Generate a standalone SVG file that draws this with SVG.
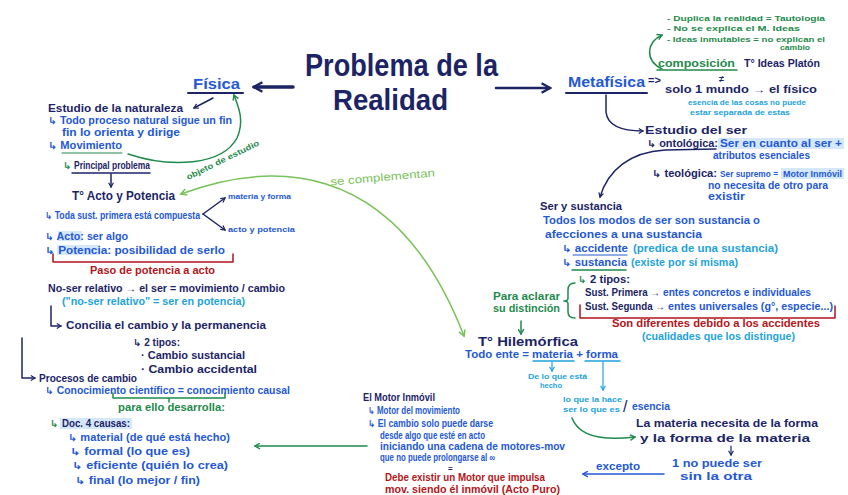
<svg xmlns="http://www.w3.org/2000/svg" width="848" height="495" viewBox="0 0 848 495">
<defs>
<style>
text{font-family:"Liberation Sans","DejaVu Sans",Arial,sans-serif;font-size:10px;font-weight:bold;}
.navy{fill:#1c2466}.blue{fill:#2458d4}.cyan{fill:#1ea3dc}.green{fill:#1f8a4c}.lgreen{fill:#79c25a}.red{fill:#b3151a}
.sm{font-size:7.5px}
.ln{fill:none;stroke-linecap:round;stroke-linejoin:round}
.sn{stroke:#1c2466}.sb{stroke:#2458d4}.sc{stroke:#1ea3dc}.sg{stroke:#1f8a4c}.sl{stroke:#79c25a}.sr{stroke:#b3151a}
.hl{fill:#d5e8fb}
</style>
<marker id="mn" viewBox="0 0 10 10" refX="8" refY="5" markerWidth="6" markerHeight="6" orient="auto-start-reverse" markerUnits="userSpaceOnUse"><path d="M1,1 L8,5 L1,9" fill="none" stroke="#1c2466" stroke-width="2"/></marker>
<marker id="mnb" viewBox="0 0 10 10" refX="8" refY="5" markerWidth="12" markerHeight="12" orient="auto-start-reverse" markerUnits="userSpaceOnUse"><path d="M1,1 L8,5 L1,9" fill="none" stroke="#1c2466" stroke-width="2"/></marker>
<marker id="mg" viewBox="0 0 10 10" refX="8" refY="5" markerWidth="7" markerHeight="7" orient="auto-start-reverse" markerUnits="userSpaceOnUse"><path d="M1,1 L8,5 L1,9" fill="none" stroke="#1f8a4c" stroke-width="2"/></marker>
<marker id="ml" viewBox="0 0 10 10" refX="8" refY="5" markerWidth="8" markerHeight="8" orient="auto-start-reverse" markerUnits="userSpaceOnUse"><path d="M1,1 L8,5 L1,9" fill="none" stroke="#79c25a" stroke-width="2"/></marker>
<marker id="mb" viewBox="0 0 10 10" refX="8" refY="5" markerWidth="7" markerHeight="7" orient="auto-start-reverse" markerUnits="userSpaceOnUse"><path d="M1,1 L8,5 L1,9" fill="none" stroke="#2458d4" stroke-width="2"/></marker>
<marker id="mc" viewBox="0 0 10 10" refX="8" refY="5" markerWidth="6" markerHeight="6" orient="auto-start-reverse" markerUnits="userSpaceOnUse"><path d="M1,1 L8,5 L1,9" fill="none" stroke="#1ea3dc" stroke-width="2"/></marker>
</defs>
<rect width="848" height="495" fill="#ffffff"/>

<g id="connectors">
<line class="ln sn" x1="293" y1="87" x2="254" y2="87" stroke-width="3.5" marker-end="url(#mnb)"/>
<line class="ln sn" x1="496" y1="88" x2="550" y2="88" stroke-width="2.5" marker-end="url(#mnb)"/>
<line class="ln sn" x1="213" y1="98" x2="194" y2="108" stroke-width="1.5" marker-end="url(#mn)"/>
<path class="ln sg" d="M128,154 C170,168 222,166 237,138 C245,120 238,106 234,95" stroke-width="1.5" marker-end="url(#mg)"/>
<line class="ln sn" x1="111" y1="174" x2="111" y2="187" stroke-width="1.5" marker-end="url(#mn)"/>
<path class="ln sl" d="M181,194 C262,164 392,150 464,336" stroke-width="1.5" marker-start="url(#ml)" marker-end="url(#ml)"/>
<line class="ln sn" x1="203" y1="214" x2="225" y2="198" stroke-width="1.5" marker-end="url(#mn)"/>
<line class="ln sn" x1="203" y1="214" x2="225" y2="230" stroke-width="1.5" marker-end="url(#mn)"/>
<path class="ln sr" d="M53,254 L53,262 L233,262 L233,254" stroke-width="1.5"/>
<path class="ln sn" d="M51,306 L51,326 L61,326" stroke-width="1.5" marker-end="url(#mn)"/>
<path class="ln sn" d="M22,338 L22,378 L35,378" stroke-width="1.5" marker-end="url(#mn)"/>
<path class="ln sg" d="M113,393 L113,398 L225,398 L225,393 M169,398 L169,402" stroke-width="1.5"/>
<line class="ln sg" x1="367" y1="446" x2="255" y2="446" stroke-width="1.5" marker-end="url(#mg)"/>
<path class="ln sn" d="M606,95 L606,112 Q608,131 643,131" stroke-width="1.5" marker-end="url(#mn)"/>
<path class="ln sg" d="M662,69 C644,60 647,42 662,35" stroke-width="1.5" marker-end="url(#mg)"/>
<path class="ln sn" d="M716,149 L665,150 C630,152 608,170 600,197" stroke-width="1.5" marker-end="url(#mn)"/>
<line class="ln sg" x1="521" y1="321" x2="521" y2="334" stroke-width="1.5" marker-end="url(#mg)"/>
<path class="ln sg" d="M575,283 Q568,283 568,290 L568,298 Q568,301 564,301 Q568,301 568,304 L568,312 Q568,318 575,318" stroke-width="1.5"/>
<path class="ln sr" d="M580,305 L580,318 L835,318 L835,306" stroke-width="1.5"/>
<line class="ln sc" x1="552" y1="362" x2="552" y2="371" stroke-width="1.2" marker-end="url(#mc)"/>
<line class="ln sc" x1="603" y1="362" x2="603" y2="390" stroke-width="1.2" marker-end="url(#mc)"/>
<path class="ln sg" d="M572,418 C580,440 610,440 635,437" stroke-width="1.5" marker-end="url(#mg)"/>
<line class="ln sn" x1="731" y1="446" x2="731" y2="455" stroke-width="1.2" marker-end="url(#mn)"/>
<line class="ln sb" x1="664" y1="474" x2="583" y2="474" stroke-width="1.5" marker-end="url(#mb)"/>
</g>

<g id="title">
<text class="navy" x="305" y="76" style="font-size:32px;font-weight:bold" textLength="193" lengthAdjust="spacingAndGlyphs">Problema de la</text>
<text class="navy" x="333" y="110" style="font-size:30px;font-weight:bold" textLength="115" lengthAdjust="spacingAndGlyphs">Realidad</text>
</g>

<g id="fisica">
<text class="blue" x="193" y="89" style="font-size:15px" textLength="47" lengthAdjust="spacingAndGlyphs">Física</text>
<line class="ln sn" x1="188" y1="93" x2="243" y2="93" stroke-width="2"/>
</g>

<g id="estudio-naturaleza">
<text class="navy" x="48" y="112" textLength="135" lengthAdjust="spacingAndGlyphs">Estudio de la naturaleza</text>
<text class="blue" x="48" y="124" textLength="184" lengthAdjust="spacingAndGlyphs">↳ Todo proceso natural sigue un fin</text>
<text class="blue" x="62" y="136" textLength="118" lengthAdjust="spacingAndGlyphs">fin lo orienta y dirige</text>
<text class="blue" x="48" y="149" textLength="74" lengthAdjust="spacingAndGlyphs">↳ Movimiento</text>
<line class="ln sg" x1="62" y1="153" x2="122" y2="153" stroke-width="1.2"/>
<text class="green" x="63" y="169">↳</text>
<text class="navy" x="74" y="169" textLength="76" lengthAdjust="spacingAndGlyphs">Principal problema</text>
<line class="ln sn" x1="72" y1="173" x2="150" y2="173" stroke-width="1.5"/>
<text class="green" x="188" y="180" style="font-size:8px" transform="rotate(-26 188 180)" textLength="80" lengthAdjust="spacingAndGlyphs">objeto de estudio</text>
</g>

<g id="complementan">
<text class="lgreen" x="330" y="181" transform="rotate(-5 382 176)" style="font-weight:normal;font-size:11px" textLength="105" lengthAdjust="spacingAndGlyphs">se complementan</text>
</g>

<g id="acto-potencia">
<text class="navy" x="72" y="200" style="font-size:12px" textLength="103" lengthAdjust="spacingAndGlyphs">T° Acto y Potencia</text>
<text class="blue" x="45" y="219" textLength="155" lengthAdjust="spacingAndGlyphs">↳ Toda sust. primera está compuesta</text>
<text class="blue sm" x="228" y="199" textLength="63" lengthAdjust="spacingAndGlyphs">materia y forma</text>
<text class="blue sm" x="228" y="232" textLength="67" lengthAdjust="spacingAndGlyphs">acto y potencia</text>
<rect class="hl" x="58" y="231" width="24" height="10"/>
<text class="blue" x="45" y="240" textLength="83" lengthAdjust="spacingAndGlyphs">↳ Acto: ser algo</text>
<rect class="hl" x="57" y="245" width="43" height="10"/>
<text class="blue" x="45" y="254" textLength="180" lengthAdjust="spacingAndGlyphs">↳ Potencia: posibilidad de serlo</text>
<text class="red" x="90" y="274" textLength="125" lengthAdjust="spacingAndGlyphs">Paso de potencia a acto</text>
<text class="navy" x="48" y="292" textLength="237" lengthAdjust="spacingAndGlyphs">No-ser relativo → el ser = movimiento / cambio</text>
<text class="cyan" x="62" y="305" textLength="183" lengthAdjust="spacingAndGlyphs">("no-ser relativo" = ser en potencia)</text>
</g>

<g id="concilia">
<text class="navy" x="66" y="329" textLength="200" lengthAdjust="spacingAndGlyphs">Concilia el cambio y la permanencia</text>
<text class="navy" x="133" y="346" textLength="47" lengthAdjust="spacingAndGlyphs">↳ 2 tipos:</text>
<text class="navy" x="141" y="359" textLength="104" lengthAdjust="spacingAndGlyphs">· Cambio sustancial</text>
<text class="navy" x="141" y="373" textLength="116" lengthAdjust="spacingAndGlyphs">· Cambio accidental</text>
</g>

<g id="procesos">
<text class="navy" x="39" y="382" textLength="98" lengthAdjust="spacingAndGlyphs">Procesos de cambio</text>
<text class="blue" x="45" y="394" textLength="245" lengthAdjust="spacingAndGlyphs">↳ Conocimiento científico = conocimiento causal</text>
<text class="green" x="118" y="411" textLength="107" lengthAdjust="spacingAndGlyphs">para ello desarrolla:</text>
<rect class="hl" x="60" y="418" width="72" height="11"/>
<text class="green" x="50" y="427">↳</text>
<text class="navy" x="62" y="427" textLength="68" lengthAdjust="spacingAndGlyphs">Doc. 4 causas:</text>
<text class="blue" x="68" y="441" textLength="162" lengthAdjust="spacingAndGlyphs">↳ material (de qué está hecho)</text>
<text class="blue" x="70" y="455" textLength="120" lengthAdjust="spacingAndGlyphs">↳ formal (lo que es)</text>
<text class="blue" x="72" y="469" textLength="156" lengthAdjust="spacingAndGlyphs">↳ eficiente (quién lo crea)</text>
<text class="blue" x="75" y="484" textLength="125" lengthAdjust="spacingAndGlyphs">↳ final (lo mejor / fin)</text>
</g>

<g id="motor-inmovil">
<text class="navy" x="363" y="401" textLength="72" lengthAdjust="spacingAndGlyphs">El Motor Inmóvil</text>
<text class="blue" x="368" y="414" textLength="92" lengthAdjust="spacingAndGlyphs">↳ Motor del movimiento</text>
<text class="blue" x="368" y="427" textLength="125" lengthAdjust="spacingAndGlyphs">↳ El cambio solo puede darse</text>
<text class="blue" x="380" y="439" textLength="105" lengthAdjust="spacingAndGlyphs">desde algo que esté en acto</text>
<text class="blue" x="380" y="450" textLength="185" lengthAdjust="spacingAndGlyphs">iniciando una cadena de motores-mov</text>
<text class="blue" x="380" y="461" textLength="115" lengthAdjust="spacingAndGlyphs">que no puede prolongarse al ∞</text>
<text class="navy" x="448" y="471" style="font-size:8px">=</text>
<text class="red" x="385" y="481" textLength="160" lengthAdjust="spacingAndGlyphs">Debe existir un Motor que impulsa</text>
<text class="red" x="385" y="493" textLength="175" lengthAdjust="spacingAndGlyphs">mov. siendo él inmóvil (Acto Puro)</text>
</g>

<g id="metafisica">
<text class="blue" x="568" y="87" style="font-size:14px" textLength="77" lengthAdjust="spacingAndGlyphs">Metafísica</text>
<text class="navy" x="648" y="84" style="font-size:11px">=&gt;</text>
<line class="ln sn" x1="566" y1="93" x2="647" y2="93" stroke-width="2"/>
</g>

<g id="platon">
<text class="green sm" x="667" y="21" textLength="158" lengthAdjust="spacingAndGlyphs">- Duplica la realidad = Tautología</text>
<text class="green sm" x="667" y="31" textLength="133" lengthAdjust="spacingAndGlyphs">- No se explica el M. Ideas</text>
<text class="green sm" x="667" y="42" textLength="158" lengthAdjust="spacingAndGlyphs">- Ideas inmutables = no explican el</text>
<text class="green sm" x="780" y="50" textLength="30" lengthAdjust="spacingAndGlyphs">cambio</text>
<text class="green" x="658" y="67" textLength="77" lengthAdjust="spacingAndGlyphs">composición</text>
<line class="ln sg" x1="657" y1="70" x2="737" y2="70" stroke-width="1.5"/>
<text class="navy" x="744" y="67" textLength="76" lengthAdjust="spacingAndGlyphs">T° Ideas Platón</text>
<text class="navy" x="719" y="82" style="font-size:9px">≠</text>
<text class="navy" x="665" y="93" textLength="152" lengthAdjust="spacingAndGlyphs">solo 1 mundo → el físico</text>
<text class="cyan sm" x="688" y="105" textLength="118" lengthAdjust="spacingAndGlyphs">esencia de las cosas no puede</text>
<text class="cyan sm" x="690" y="115" textLength="100" lengthAdjust="spacingAndGlyphs">estar separada de estas</text>
</g>

<g id="estudio-ser">
<text class="navy" x="645" y="134" style="font-size:11px" textLength="102" lengthAdjust="spacingAndGlyphs">Estudio del ser</text>
<rect class="hl" x="718" y="138" width="126" height="11"/>
<text class="navy" x="647" y="147" textLength="71" lengthAdjust="spacingAndGlyphs">↳ ontológica:</text>
<text class="blue" x="720" y="147" textLength="122" lengthAdjust="spacingAndGlyphs">Ser en cuanto al ser +</text>
<text class="blue" x="713" y="159" textLength="97" lengthAdjust="spacingAndGlyphs">atributos esenciales</text>
<rect class="hl" x="781" y="168" width="63" height="11"/>
<text class="navy" x="652" y="177" textLength="65" lengthAdjust="spacingAndGlyphs">↳ teológica:</text>
<text class="blue" x="720" y="177" style="font-size:8.5px" textLength="58" lengthAdjust="spacingAndGlyphs">Ser supremo =</text>
<text class="blue" x="783" y="177" style="font-size:8.5px" textLength="59" lengthAdjust="spacingAndGlyphs">Motor Inmóvil</text>
<text class="blue" x="708" y="189" textLength="120" lengthAdjust="spacingAndGlyphs">no necesita de otro para</text>
<text class="blue" x="708" y="200" textLength="37" lengthAdjust="spacingAndGlyphs">existir</text>
</g>

<g id="ser-sustancia">
<text class="navy" x="540" y="210" style="font-size:11px" textLength="82" lengthAdjust="spacingAndGlyphs">Ser y sustancia</text>
<text class="blue" x="543" y="224" textLength="217" lengthAdjust="spacingAndGlyphs">Todos los modos de ser son sustancia o</text>
<text class="blue" x="545" y="238" textLength="157" lengthAdjust="spacingAndGlyphs">afecciones a una sustancia</text>
<text class="blue" x="562" y="252" textLength="66" lengthAdjust="spacingAndGlyphs">↳ accidente</text>
<line class="ln sb" x1="573" y1="255" x2="627" y2="255" stroke-width="1"/>
<text class="cyan" x="633" y="252" textLength="145" lengthAdjust="spacingAndGlyphs">(predica de una sustancia)</text>
<text class="blue" x="562" y="266" textLength="65" lengthAdjust="spacingAndGlyphs">↳ sustancia</text>
<line class="ln sg" x1="572" y1="270" x2="626" y2="270" stroke-width="1.5"/>
<text class="cyan" x="631" y="266" textLength="107" lengthAdjust="spacingAndGlyphs">(existe por sí misma)</text>
<text class="green" x="578" y="283">↳</text>
<text class="navy" x="590" y="283" textLength="40" lengthAdjust="spacingAndGlyphs">2 tipos:</text>
<text class="navy" x="585" y="296" textLength="75" lengthAdjust="spacingAndGlyphs">Sust. Primera →</text>
<text class="blue" x="663" y="296" textLength="148" lengthAdjust="spacingAndGlyphs">entes concretos e individuales</text>
<text class="navy" x="585" y="310" textLength="80" lengthAdjust="spacingAndGlyphs">Sust. Segunda →</text>
<text class="blue" x="668" y="310" textLength="165" lengthAdjust="spacingAndGlyphs">entes universales (g°, especie...)</text>
<text class="red" x="612" y="327" textLength="208" lengthAdjust="spacingAndGlyphs">Son diferentes debido a los accidentes</text>
<text class="cyan" x="642" y="340" textLength="153" lengthAdjust="spacingAndGlyphs">(cualidades que los distingue)</text>
<text class="green" x="493" y="300" textLength="67" lengthAdjust="spacingAndGlyphs">Para aclarar</text>
<text class="green" x="493" y="312" textLength="67" lengthAdjust="spacingAndGlyphs">su distinción</text>
</g>

<g id="hilemorfica">
<text class="navy" x="478" y="346" style="font-size:13px" textLength="100" lengthAdjust="spacingAndGlyphs">T° Hilemórfica</text>
<text class="blue" x="465" y="358" textLength="153" lengthAdjust="spacingAndGlyphs">Todo ente = materia + forma</text>
<line class="ln sc" x1="533" y1="361" x2="574" y2="361" stroke-width="1.5"/>
<line class="ln sc" x1="585" y1="361" x2="620" y2="361" stroke-width="1.5"/>
<text class="cyan sm" x="528" y="379" textLength="59" lengthAdjust="spacingAndGlyphs">De lo que está</text>
<text class="cyan sm" x="540" y="388" textLength="22" lengthAdjust="spacingAndGlyphs">hecho</text>
<text class="cyan sm" x="563" y="402" textLength="59" lengthAdjust="spacingAndGlyphs">lo que la hace</text>
<text class="cyan sm" x="563" y="412" textLength="57" lengthAdjust="spacingAndGlyphs">ser lo que es</text>
<text class="navy" x="623" y="412" style="font-size:16px;font-weight:normal">/</text>
<text class="blue" x="632" y="410" textLength="38" lengthAdjust="spacingAndGlyphs">esencia</text>
<text class="navy" x="636" y="427" textLength="182" lengthAdjust="spacingAndGlyphs">La materia necesita de la forma</text>
<text class="navy" x="640" y="442" textLength="170" lengthAdjust="spacingAndGlyphs">y la forma de la materia</text>
<text class="blue" x="672" y="467" textLength="90" lengthAdjust="spacingAndGlyphs">1 no puede ser</text>
<text class="blue" x="680" y="480" textLength="72" lengthAdjust="spacingAndGlyphs">sin la otra</text>
<text class="blue" x="596" y="470" textLength="44" lengthAdjust="spacingAndGlyphs">excepto</text>
</g>
</svg>
